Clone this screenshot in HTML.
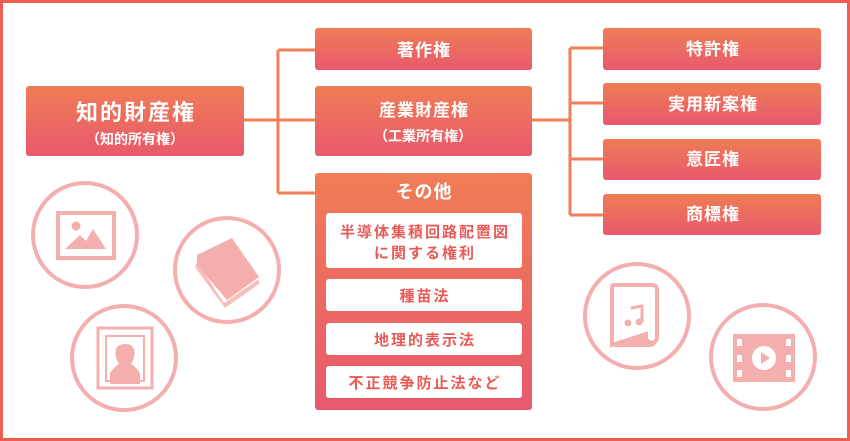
<!DOCTYPE html>
<html><head><meta charset="utf-8"><style>
html,body{margin:0;padding:0;background:#fff}
svg{display:block}
text{font-family:"Liberation Sans","Noto Sans CJK JP",sans-serif;font-weight:bold;text-anchor:middle}
</style></head><body>
<svg width="850" height="441" viewBox="0 0 850 441" xmlns="http://www.w3.org/2000/svg">
<defs>
<linearGradient id="g" x1="0" y1="0" x2="0" y2="1"><stop offset="0" stop-color="#ef7d55"/><stop offset="1" stop-color="#e8596d"/></linearGradient>
</defs>
<rect x="1.5" y="1.5" width="847" height="438" fill="#fff" stroke="#ee5e50" stroke-width="3"/>
<g stroke="#ef7f55" stroke-width="3" fill="none">
<path d="M244 120H278M278 50V193M278 50H315M278 120H315M278 193H315"/>
<path d="M532 120H570M570 48V215M570 48H603M570 103H603M570 159H603M570 215H603"/>
</g>
<g fill="url(#g)">
<rect x="26" y="86" width="218" height="70" rx="3"/>
<rect x="315" y="28" width="217" height="42" rx="3"/>
<rect x="315" y="86" width="217" height="70" rx="3"/>
<rect x="315" y="173" width="217" height="237" rx="3"/>
<rect x="603" y="28" width="218" height="42" rx="3"/>
<rect x="603" y="83" width="218" height="42" rx="3"/>
<rect x="603" y="139" width="218" height="41" rx="3"/>
<rect x="603" y="194" width="218" height="41" rx="3"/>
</g>
<g fill="#fff">
<rect x="326" y="213" width="196" height="55" rx="3"/>
<rect x="326" y="279" width="196" height="32" rx="3"/>
<rect x="326" y="323" width="196" height="32" rx="3"/>
<rect x="326" y="366" width="196" height="32" rx="3"/>
</g>
<g fill="#fff">
<text x="136" y="120" font-size="22" letter-spacing="2">知的財産権</text>
<text x="135" y="144" font-size="14" font-weight="normal">（知的所有権）</text>
<text x="424" y="56" font-size="17" letter-spacing="1">著作権</text>
<text x="424" y="116" font-size="17" letter-spacing="1">産業財産権</text>
<text x="423" y="141" font-size="14" font-weight="normal">（工業所有権）</text>
<text x="424" y="198" font-size="18" letter-spacing="1">その他</text>
<text x="713" y="55" font-size="17" letter-spacing="1">特許権</text>
<text x="713" y="110" font-size="17" letter-spacing="1">実用新案権</text>
<text x="713" y="165" font-size="17" letter-spacing="1">意匠権</text>
<text x="713" y="220" font-size="17" letter-spacing="1">商標権</text>
</g>
<g fill="#e85a55" font-size="15" letter-spacing="2">
<text x="425" y="237">半導体集積回路配置図</text>
<text x="425" y="258">に関する権利</text>
<text x="425" y="301">種苗法</text>
<text x="425" y="345">地理的表示法</text>
<text x="425" y="388">不正競争防止法など</text>
</g>
<g stroke="#f4aead" stroke-width="4" fill="none">
<circle cx="85" cy="235" r="52"/>
<circle cx="227" cy="270" r="52"/>
<circle cx="124" cy="358" r="52"/>
<circle cx="637" cy="316" r="52"/>
<circle cx="763" cy="357" r="52"/>
</g>
<g fill="#f4aead">
<rect x="58" y="213" width="56" height="45" fill="none" stroke="#f4aead" stroke-width="4"/>
<circle cx="76" cy="226" r="4.5"/>
<path d="M65 249L80 235L86 241L93 229L106 249Z"/>
<path d="M197 255L232 238L259 277L227 300L197 265Z"/>
<path d="M197 262L224 303L259 279V284L225 308L195 267Z" opacity=".8"/>
<rect x="98" y="328" width="54" height="60" fill="none" stroke="#f4aead" stroke-width="3"/>
<rect x="106" y="336" width="38" height="45" fill="none" stroke="#f4aead" stroke-width="2"/>
<path d="M110 384V373Q114 367 119 364Q114 357 116 349Q118 344 125 344Q132 344 134 349Q136 357 131 364Q136 367 140 373V384Z"/>
<path d="M614 285Q612 285 612 288V345L646 334V344Q655 345 657 338V290Q657 285 652 285Z" fill="none" stroke="#f4aead" stroke-width="4"/>
<path d="M615 345L646 334Q648 343 657 340Q656 347 650 347H615Z"/>
<path d="M631 308L642 306V322" fill="none" stroke="#f4aead" stroke-width="3"/>
<circle cx="628" cy="323" r="3.5"/><circle cx="639" cy="322" r="3.5"/>
<rect x="733" y="334" width="62" height="48"/>
</g>
<g fill="#fff">
<rect x="737" y="339" width="5" height="7"/><rect x="737" y="355" width="5" height="7"/><rect x="737" y="370" width="5" height="7"/>
<rect x="786" y="339" width="5" height="7"/><rect x="786" y="355" width="5" height="7"/><rect x="786" y="370" width="5" height="7"/>
<circle cx="764" cy="358" r="12"/>
</g>
<path d="M761 352L770 358L761 364Z" fill="#f4aead"/>
</svg>
</body></html>
